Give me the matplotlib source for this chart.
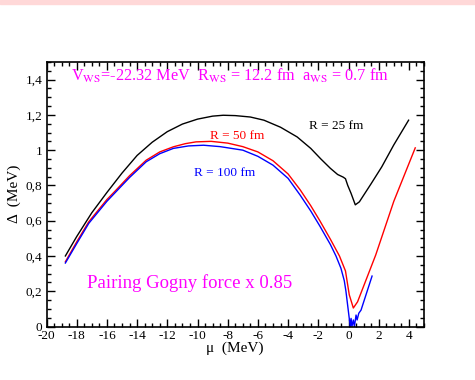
import matplotlib
matplotlib.use("Agg")
import matplotlib.pyplot as plt
from matplotlib.ticker import MultipleLocator, FixedLocator
from matplotlib.patches import Rectangle

plt.rcParams['font.family'] = ['Liberation Serif', 'DejaVu Serif']
plt.rcParams['mathtext.fontset'] = 'stix'

# R = 25 fm
mu_25 = [-18.75, -18.0, -17.0, -16.0, -15.0, -14.0, -13.0, -12.0, -11.0, -10.0, -9.0,
         -8.3, -7.5, -6.5, -5.6, -4.5, -3.4, -2.5, -1.83, -1.2, -0.72, -0.35, -0.2,
         -0.05, 0.17, 0.45, 0.72, 1.5, 2.2, 3.0, 3.98]
d_25 = [0.40, 0.51, 0.645, 0.76, 0.87, 0.97, 1.045, 1.105, 1.148, 1.176, 1.193,
        1.198, 1.196, 1.188, 1.17, 1.13, 1.075, 1.01, 0.95, 0.897, 0.862, 0.847, 0.838,
        0.80, 0.755, 0.69, 0.707, 0.81, 0.905, 1.03, 1.17]

# R = 50 fm
mu_50 = [-18.75, -18.0, -17.2, -16.0, -15.5, -14.5, -13.4, -12.5, -11.6, -10.8, -10.1,
         -9.1, -8.0, -7.0, -6.0, -5.0, -4.0, -3.2, -2.5, -1.9, -1.2, -0.6, -0.2,
         0.05, 0.32, 0.6, 1.8, 3.0, 4.42]
d_50 = [0.367, 0.48, 0.594, 0.72, 0.764, 0.855, 0.943, 0.99, 1.019, 1.037, 1.047,
        1.05, 1.04, 1.02, 0.99, 0.94, 0.865, 0.775, 0.685, 0.60, 0.495, 0.40, 0.315,
        0.18, 0.105, 0.14, 0.405, 0.71, 1.013]

# R = 100 fm
mu_100 = [-18.75, -18.0, -17.2, -16.0, -15.5, -14.5, -13.4, -12.5, -11.6, -10.6, -9.6,
          -8.5, -7.0, -6.0, -5.0, -4.0, -3.2, -2.5, -1.9, -1.2, -0.83, -0.5, -0.28,
          -0.17, 0.05, 0.12, 0.17, 0.23, 0.32, 0.39, 0.5, 0.57, 0.68, 0.83, 1.56]
d_100 = [0.36, 0.47, 0.585, 0.71, 0.755, 0.845, 0.934, 0.98, 1.01, 1.024, 1.028,
         1.02, 1.0, 0.965, 0.915, 0.84, 0.745, 0.655, 0.57, 0.465, 0.40, 0.33, 0.26,
         0.20, 0.046, 0.0, 0.046, 0.0, 0.037, 0.0, 0.065, 0.037, 0.075, 0.093, 0.286]

x_ticks = [-20, -18, -16, -14, -12, -10, -8, -6, -4, -2, 0, 2, 4]
y_ticks = [0, 0.2, 0.4, 0.6, 0.8, 1.0, 1.2, 1.4]
y_tick_labels = ["0", "0,2", "0,4", "0,6", "0,8", "1", "1,2", "1,4"]

fig = plt.figure(figsize=(4.75, 3.8), dpi=100)
fig.patches.append(Rectangle((0, 1 - 4 / 380), 1, 4 / 380, transform=fig.transFigure,
                             color='#ffd8d8', zorder=0))
ax = fig.add_axes([46.5 / 475, (380 - 326.5) / 380, (424 - 46.5) / 475, (326.5 - 62) / 380])

ax.plot(mu_25, d_25, color='black', lw=1.0)
ax.plot(mu_50, d_50, color='red', lw=1.0)
ax.plot(mu_100, d_100, color='blue', lw=1.0)

ax.set_xlim(-20, 5)
ax.set_ylim(0, 1.5)
ax.xaxis.set_major_locator(FixedLocator(x_ticks))
ax.set_xticklabels([str(t) for t in x_ticks])
ax.xaxis.set_minor_locator(MultipleLocator(0.5))
ax.yaxis.set_major_locator(FixedLocator(y_ticks))
ax.set_yticklabels(y_tick_labels)
ax.yaxis.set_minor_locator(MultipleLocator(0.05))
ax.tick_params(which='both', direction='in', top=True, right=True, labelsize=9.5,
               width=1.0)
ax.tick_params(axis='x', which='both', pad=2.5)
ax.tick_params(axis='y', which='both', pad=3)
ax.tick_params(which='major', length=5.5)
ax.tick_params(which='minor', length=3)
for s in ax.spines.values():
    s.set_linewidth(1.2)

ax.set_xlabel("μ  (MeV)", fontsize=11, labelpad=0)
ax.set_ylabel("Δ  (MeV)", fontsize=11, labelpad=3)

ax.text(-18.4, 1.39, r"V$_{\mathrm{WS}}$=-22.32 MeV  R$_{\mathrm{WS}}$ = 12.2 fm  a$_{\mathrm{WS}}$ = 0.7 fm",
        color='#ff00ff', fontsize=11.7, ha='left', va='baseline')
ax.text(-17.3, 0.216, "Pairing Gogny force x 0.85", color='#ff00ff', fontsize=13.5,
        ha='left', va='baseline')
ax.text(-2.6, 1.12, "R = 25 fm", color='black', fontsize=9.5, ha='left', va='baseline')
ax.text(-9.2, 1.065, "R = 50 fm", color='red', fontsize=9.5, ha='left', va='baseline')
ax.text(-10.2, 0.855, "R = 100 fm", color='blue', fontsize=9.5, ha='left', va='baseline')

fig.savefig("out.png", dpi=100)
